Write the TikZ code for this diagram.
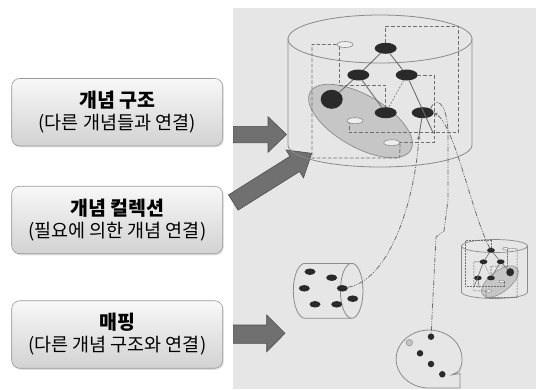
\documentclass[tikz,border=0pt]{standalone}
\usepackage{fontspec}
\newfontfamily\kr{Noto Sans CJK KR}
\usetikzlibrary{arrows.meta,shadows,shapes.geometric}
\definecolor{panel}{HTML}{E6E6E6}
\definecolor{cylline}{HTML}{8A8A8A}
\definecolor{nodeblack}{HTML}{2A2A2A}
\definecolor{grayfill}{HTML}{C6C6C6}
\definecolor{wfill}{HTML}{EEEEEE}
\definecolor{linkc}{HTML}{6E6E6E}
\definecolor{arrowfill}{HTML}{707070}
\definecolor{arrowline}{HTML}{4E4E4E}
\definecolor{boxtop}{HTML}{F8F8F8}
\definecolor{boxbot}{HTML}{D2D2D2}
\definecolor{boxline}{HTML}{9A9A9A}

\newcommand\conceptset[1]{%
  \filldraw[grayell, rotate around={-30:(360.5,121)}] (360.5,121) ellipse [x radius=58pt, y radius=26pt];
  \node[wdot] (#1w1) at (345,44.5) {};
  \node[wdot] (#1w2) at (355,120.7) {};
  \node[wdot] (#1w3) at (391.7,142.7) {};
  \node[bdot] (#1n1) at (385.7,48.3) {};
  \node[bdot] (#1n2) at (358.3,75) {};
  \node[bdot] (#1n3) at (406.7,75) {};
  \node[bdot, minimum height=19pt] (#1n4) at (331.7,99.3) {};
  \node[bdot] (#1n5) at (385.7,112.7) {};
  \node[bdot] (#1n6) at (422.7,112.7) {};
  \coordinate (#1c1) at (433.3,133.3);
  \coordinate (#1a1) at (419,135.5);
  \draw[lnk] (#1n1) -- (#1n2);
  \draw[lnk] (#1n1) -- (#1n3);
  \draw[lnk] (#1n2) -- (#1n4);
  \draw[lnk] (#1n2) -- (#1n5);
  \draw[lnk] (#1n3) -- (#1c1);
  \draw[lnk] (#1a1) -- (#1n6);
  \draw[dtd] (#1n3) -- (#1n5);
  \draw[dsh] (#1w1.west) -- (312,44.5) |- (399.7,158) -- (#1w3.east);
  \draw[dsh] (#1w1.south west) |- (385.7,85) -- (#1n5.north);
  \draw[dsh] (#1n1.north) |- (458.3,26) -- (458.3,132.7) -| (#1w2.south west);
  \draw[dsh] (#1n3.east) -| (434,142.7) -- (#1w3.east);
}
\newcommand\hd[1]{{\fontsize{19.5}{22}\selectfont\bfseries #1}}

\begin{document}
\begin{tikzpicture}[x=1pt,y=-1pt,
  box/.style={draw=boxline, line width=0.6pt, rounded corners=8pt, top color=boxtop, bottom color=boxbot,
    minimum width=211pt, minimum height=67.5pt, align=center, text=black,
    font=\kr\fontsize{18.5}{22}\selectfont,
    drop shadow={shadow xshift=1pt, shadow yshift=-1.5pt, opacity=0.25}},
  barrow/.style={fill=arrowfill, draw=arrowline, line width=0.6pt, line join=miter},
  cyl/.style={draw=cylline, line width=0.8pt},
  grayell/.style={fill=grayfill, draw=cylline, line width=0.7pt},
  bdot/.style={ellipse, fill=nodeblack, inner sep=0pt, minimum width=22pt, minimum height=11pt},
  wdot/.style={ellipse, draw=cylline, fill=wfill, inner sep=0pt, minimum width=16pt, minimum height=6pt, line width=0.6pt},
  gdot/.style={circle, draw=cylline, fill=grayfill!80!black!60, inner sep=0pt, minimum size=6.5pt, line width=0.5pt},
  sdot/.style={ellipse, fill=nodeblack, inner sep=0pt, minimum width=11pt, minimum height=6.5pt},
  rdot/.style={circle, fill=nodeblack, inner sep=0pt, minimum size=6.5pt},
  lnk/.style={draw=linkc, line width=0.9pt},
  dtd/.style={draw=linkc!80, line width=0.8pt, dash pattern=on 2pt off 1.5pt},
  dsh/.style={draw=linkc, line width=0.8pt, dash pattern=on 3.5pt off 2pt},
  ddot/.style={draw=linkc, line width=0.8pt, dash pattern=on 5pt off 1.5pt on 1pt off 1.5pt on 1pt off 1.5pt}
]
\useasboundingbox (0,0) rectangle (536,389);
\fill[panel] (233.3,8) rectangle (536,389);

% text boxes
\node[box] (b1) at (117.2,112.2) {\hd{개념 구조}\\(다른 개념들과 연결)};
\node[box] (b2) at (117.2,220) {\hd{개념 컬렉션}\\(필요에 의한 개념 연결)};
\node[box] (b3) at (117.2,334.5) {\hd{매핑}\\(다른 개념 구조와 연결)};

% block arrows
\filldraw[barrow] (233.3,126.3) -- (268,126.3) -- (268,116.7) -- (286.5,134.5) -- (268,152.3) -- (268,142.7) -- (233.3,142.7) -- cycle;
\filldraw[barrow] (228.5,194.9) -- (289.98,156.31) -- (285.99,149.95) -- (311.7,153.3) -- (303.53,177.9) -- (299.54,171.55) -- (238.1,210.1) -- cycle;
\filldraw[barrow] (233.3,325) -- (266.7,325) -- (266.7,315) -- (285,333.3) -- (266.7,351.7) -- (266.7,343.3) -- (233.3,343.3) -- cycle;

% big cylinder
\draw[cyl] (380,39) ellipse [x radius=92pt, y radius=24pt];
\draw[cyl] (288,39) -- (288,145) arc[start angle=180, end angle=360, x radius=92pt, y radius=22pt] -- (472,39);
\conceptset{b}

% small cylinder
\draw[cyl, line width=0.7pt] (494.5,246) ellipse [x radius=33pt, y radius=6.5pt];
\draw[cyl, line width=0.7pt] (461.5,246) -- (461.5,292) arc[start angle=180, end angle=360, x radius=33pt, y radius=6.5pt] -- (527.5,246);
\begin{scope}[shift={(627.9pt,-229.53pt)}, xscale=-0.355, yscale=0.43, transform shape,
  lnk/.append style={line width=0.6pt}, dsh/.append style={line width=0.6pt, dash pattern=on 2pt off 1pt},
  dtd/.append style={line width=0.5pt, dash pattern=on 1pt off 1pt},
  grayell/.append style={line width=0.5pt}, wdot/.append style={line width=0.5pt}]
\conceptset{s}
\end{scope}

% horizontal cylinder
\draw[cyl] (305,263.3) arc[start angle=90, end angle=270, x radius=11.7pt, y radius=27.5pt] -- (351.7,318.3);
\draw[cyl] (305,263.3) -- (351.7,263.3);
\draw[cyl] (351.7,290.8) ellipse [x radius=11.3pt, y radius=27.5pt];
\node[sdot] (h1) at (310,271.7) {};
\node[sdot] (h2) at (331.7,277.7) {};
\node[sdot] (h3) at (304.3,288.3) {};
\node[sdot] (h4) at (342.3,288.3) {};
\node[sdot] (h5) at (352.7,298.7) {};
\node[sdot] (h6) at (315,304.3) {};
\node[sdot] (h7) at (336.7,304.3) {};

% speech bubble
\draw[cyl] (459,371.3) arc[start angle=-25, end angle=270, x radius=33pt, y radius=29pt] -- (460,388) -- (460,373.5) -- (452,374.8) -- cycle;
\node[gdot] (g1) at (409.3,342.7) {};
\node[rdot] (d1) at (431,336.7) {};
\node[rdot] (d2) at (420,353.3) {};
\node[rdot] (d3) at (431,364) {};
\node[rdot] (d4) at (442.3,374.3) {};

% dash-dot links
\draw[ddot, -{Stealth[length=4pt, width=3.5pt]}] (h4) .. controls (390,280) and (415,200) .. (ba1);
\draw[ddot] (bn6.north east) .. controls (435,97) and (446,100) .. (448,130) -- (448,200) -- (444,231) -- (436,237) -- (d1);
\draw[ddot, -{Stealth[length=4pt, width=3.5pt]}] (sn1) .. controls (472,215) and (455,125) .. (bn6.east);
\end{tikzpicture}
\end{document}
